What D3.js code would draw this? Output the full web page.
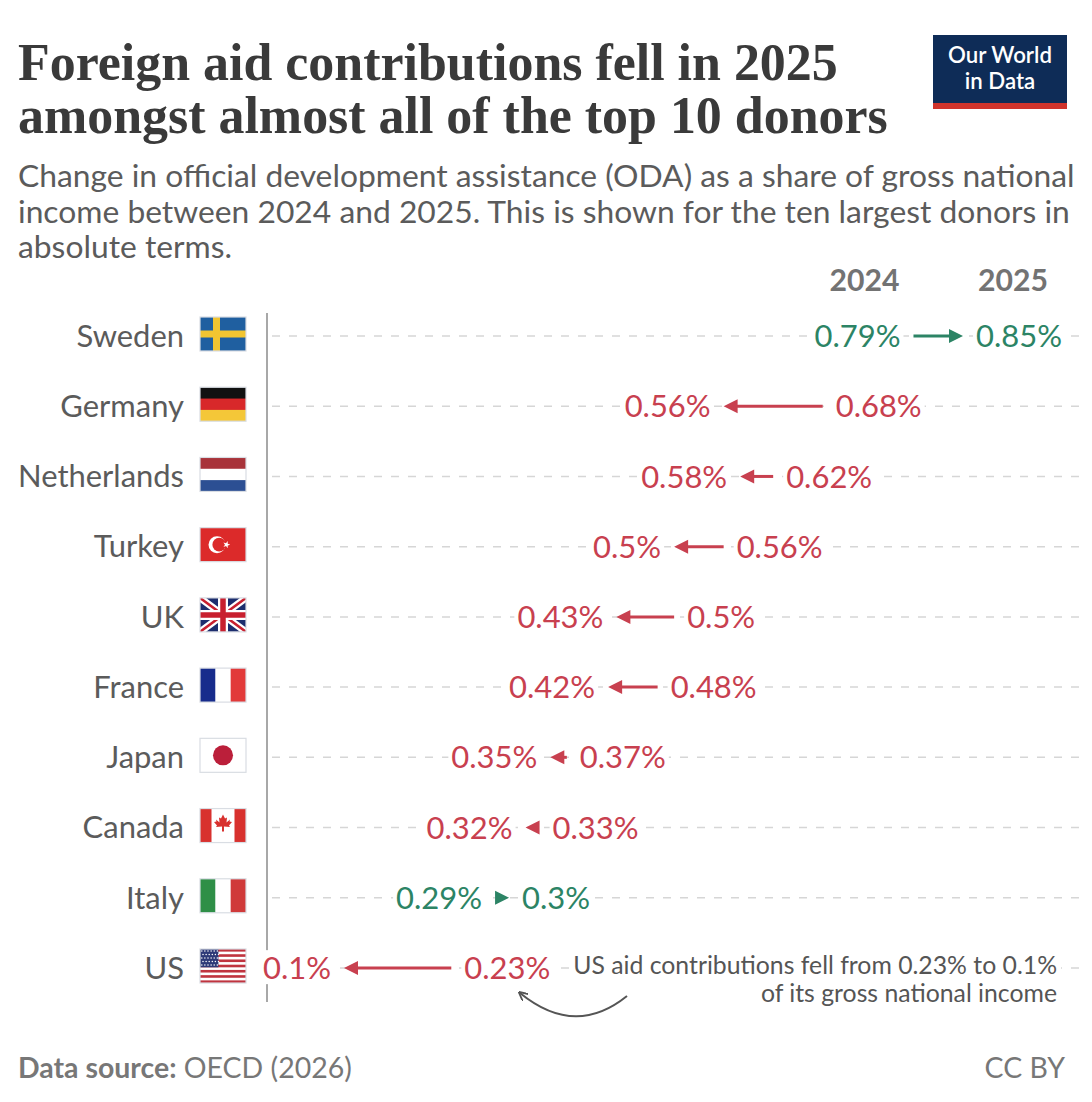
<!DOCTYPE html>
<html>
<head>
<meta charset="utf-8">
<script src="https://cdn.jsdelivr.net/npm/d3@7/dist/d3.min.js"></script>
<style>
  html, body { margin: 0; padding: 0; background: #fff; }
  svg { display: block; }
  text { font-family: Lato, "Open Sans", "Noto Sans", sans-serif; }
</style>
</head>
<body>
<svg id="chart" width="1092" height="1102"></svg>
<script>
// ---------------- DATA ----------------
const countries = ["Sweden", "Germany", "Netherlands", "Turkey", "UK", "France", "Japan", "Canada", "Italy", "US"];
const flagCodes = ["se", "de", "nl", "tr", "gb", "fr", "jp", "ca", "it", "us"];
const oda2024 = [0.79, 0.68, 0.62, 0.56, 0.50, 0.48, 0.37, 0.33, 0.29, 0.23];
const oda2025 = [0.85, 0.56, 0.58, 0.50, 0.43, 0.42, 0.35, 0.32, 0.30, 0.10];
const yearLabels = ["2024", "2025"];
const titleLines = ["Foreign aid contributions fell in 2025", "amongst almost all of the top 10 donors"];
const subtitleLines = [
  "Change in official development assistance (ODA) as a share of gross national",
  "income between 2024 and 2025. This is shown for the ten largest donors in",
  "absolute terms."
];
const noteLines = ["US aid contributions fell from 0.23% to 0.1%", "of its gross national income"];
const logoLines = ["Our World", "in Data"];
const sourceBold = "Data source:";
const sourceText = " OECD (2026)";
const licenseText = "CC BY";

// ---------------- SETUP ----------------
const svg = d3.select("#chart");
const defs = svg.append("defs");
const RED = "#c8404f", GREEN = "#2c8465", GREY = "#5b5b5b";

// measure helper: font size that makes `str` span `target` px
function fitSize(str, target, attrs) {
  const t = svg.append("text").attr("font-size", 30).text(str);
  Object.entries(attrs || {}).forEach(([k, v]) => t.attr(k, v));
  const w = t.node().getComputedTextLength();
  t.remove();
  return 30 * target / w;
}

// Title
const titleFs = fitSize(titleLines[0], 820, { "font-weight": 700, "style": "font-family:'Liberation Serif', 'DejaVu Serif', serif" });
svg.selectAll("text.title").data(titleLines).join("text")
  .attr("class", "title")
  .attr("x", 18).attr("y", (d, i) => 80 + i * 53)
  .attr("fill", "#3a3a3a")
  .attr("font-weight", 700)
  .attr("font-size", titleFs)
  .style("font-family", "'Liberation Serif', 'DejaVu Serif', serif")
  .text(d => d);

// Subtitle
const subFs = fitSize(subtitleLines[0], 1057);
svg.selectAll("text.sub").data(subtitleLines).join("text")
  .attr("class", "sub")
  .attr("x", 18).attr("y", (d, i) => 187 + i * 35.5)
  .attr("fill", GREY).attr("font-size", subFs)
  .text(d => d);

// Logo
const logo = svg.append("g");
logo.append("rect").attr("x", 933).attr("y", 35).attr("width", 134).attr("height", 74).attr("fill", "#0e2c57");
logo.append("rect").attr("x", 933).attr("y", 103).attr("width", 134).attr("height", 6).attr("fill", "#d0342c");
const logoFs = fitSize(logoLines[0], 104, { "font-weight": 600 });
logo.selectAll("text").data(logoLines).join("text")
  .attr("x", 1000).attr("y", (d, i) => 63 + i * 26)
  .attr("text-anchor", "middle").attr("fill", "#fff").attr("font-weight", 600)
  .attr("font-size", logoFs).text(d => d);

// ---------------- SCALES ----------------
const x = d3.scaleLinear().domain([0.1, 0.85]).range([344, 963]);
const y = d3.scalePoint().domain(countries).range([336, 968]);

const rows = countries.map((c, i) => ({
  country: c, code: flagCodes[i], start: oda2024[i], end: oda2025[i]
}));

const gGrid = svg.append("g");
const gAxis = svg.append("g");
const gArrows = svg.append("g");
const gLabelBg = svg.append("g");
const gLabels = svg.append("g");
const gFlags = svg.append("g");

// Gridlines
gGrid.selectAll("line").data(rows).join("line")
  .attr("x1", 272).attr("x2", 1080)
  .attr("y1", d => y(d.country)).attr("y2", d => y(d.country))
  .attr("stroke", "#d6d6d6").attr("stroke-width", 1.5)
  .attr("stroke-dasharray", "8,9");

// Axis line
gAxis.append("line")
  .attr("x1", 267).attr("x2", 267).attr("y1", 313).attr("y2", 1002)
  .attr("stroke", "#a8a8a8").attr("stroke-width", 2);

// Country labels
const countryFs = fitSize("Netherlands", 166);
gLabels.selectAll("text.country").data(rows).join("text")
  .attr("class", "country")
  .attr("x", 184).attr("y", d => y(d.country)).attr("dy", "0.35em")
  .attr("text-anchor", "end").attr("fill", GREY).attr("font-size", countryFs)
  .text(d => d.country);

// Arrows and value labels
const HEAD = 14, HALF = 7, GAP = 13;
const valueFs = fitSize("0.56%", 86);
const fmt = v => (+v.toFixed(2)).toString() + "%";
const startLabels = [], endLabels = [];

rows.forEach(d => {
  const cy = y(d.country);
  const x0 = x(d.start), x1 = x(d.end);
  const dir = x1 >= x0 ? 1 : -1;
  const color = dir > 0 ? GREEN : RED;
  const dist = Math.abs(x1 - x0);
  const base = x1 - dir * HEAD;
  const tailEdge = dist > HEAD ? x0 : base;
  if (dist > HEAD) {
    gArrows.append("line")
      .attr("x1", x0).attr("x2", base + dir * 2)
      .attr("y1", cy).attr("y2", cy)
      .attr("stroke", color).attr("stroke-width", 3);
  }
  gArrows.append("path")
    .attr("d", `M${x1},${cy} L${base},${cy - HALF} L${base},${cy + HALF} Z`)
    .attr("fill", color);

  const sl = gLabels.append("text").attr("class", "val")
    .attr("x", tailEdge - dir * GAP).attr("y", cy).attr("dy", "0.36em")
    .attr("text-anchor", dir > 0 ? "end" : "start")
    .attr("fill", color).attr("font-size", valueFs)
    .text(fmt(d.start));
  const el = gLabels.append("text").attr("class", "val")
    .attr("x", x1 + dir * GAP).attr("y", cy).attr("dy", "0.36em")
    .attr("text-anchor", dir > 0 ? "start" : "end")
    .attr("fill", color).attr("font-size", valueFs)
    .text(fmt(d.end));
  startLabels.push(sl); endLabels.push(el);
});

// white backgrounds behind value labels
gLabels.selectAll("text.val").each(function () {
  const b = this.getBBox();
  gLabelBg.append("rect")
    .attr("x", b.x - 3).attr("y", b.y + 2).attr("width", b.width + 6).attr("height", b.height - 4)
    .attr("fill", "#fff");
});

// Year headers above the first row's labels, nudged toward the arrow
const yearFs = fitSize("2024", 70, { "font-weight": 700 });
[startLabels[0], endLabels[0]].forEach((lab, i) => {
  const b = lab.node().getBBox();
  svg.append("text")
    .attr("x", b.x + b.width / 2 + (i === 0 ? 7 : -6)).attr("y", 291)
    .attr("text-anchor", "middle").attr("fill", "#737373")
    .attr("font-weight", 700).attr("font-size", yearFs)
    .text(yearLabels[i]);
});

// Annotation for the US
const noteG = svg.append("g");
const noteFs = fitSize(noteLines[0], 484);
const noteSel = noteG.selectAll("text").data(noteLines).join("text")
  .attr("x", 1057).attr("y", (d, i) => 974 + i * 28)
  .attr("text-anchor", "end").attr("fill", "#555").attr("font-size", noteFs)
  .text(d => d);
{
  const b = noteSel.nodes()[0].getBBox();
  noteG.insert("rect", "text")
    .attr("x", b.x - 4).attr("y", b.y + 2).attr("width", b.width + 8).attr("height", b.height - 4)
    .attr("fill", "#fff");
}
defs.append("marker")
  .attr("id", "ah").attr("viewBox", "0 0 10 10").attr("refX", 8).attr("refY", 5)
  .attr("markerWidth", 9).attr("markerHeight", 9).attr("markerUnits", "userSpaceOnUse")
  .attr("orient", "auto")
  .append("path").attr("d", "M0,0 L10,5 L0,10").attr("fill", "none")
  .attr("stroke", "#555").attr("stroke-width", 2);
svg.append("path")
  .attr("d", "M627,996 Q575,1038 520,993")
  .attr("fill", "none").attr("stroke", "#555").attr("stroke-width", 2)
  .attr("marker-end", "url(#ah)");

// Footer
const footFs = fitSize(sourceText, 168);
const foot = svg.append("text").attr("x", 18).attr("y", 1078).attr("fill", "#777").attr("font-size", footFs);
foot.append("tspan").attr("font-weight", 700).text(sourceBold);
foot.append("tspan").text(sourceText);
svg.append("text").attr("x", 1065).attr("y", 1078).attr("text-anchor", "end")
  .attr("fill", "#777").attr("font-size", footFs).text(licenseText);

// ---------------- FLAGS ----------------
const FW = 46, FH = 34;
defs.append("clipPath").attr("id", "flagclip").append("rect").attr("width", FW).attr("height", FH);

function star(cx, cy, r, rot) {
  const pts = [];
  for (let k = 0; k < 10; k++) {
    const a = rot + k * Math.PI / 5;
    const rr = k % 2 === 0 ? r : r * 0.4;
    pts.push([cx + rr * Math.cos(a), cy + rr * Math.sin(a)]);
  }
  return "M" + pts.map(p => p.join(",")).join("L") + "Z";
}

const drawFlag = {
  se(g) {
    g.append("rect").attr("width", FW).attr("height", FH).attr("fill", "#1f5fa0");
    g.append("rect").attr("x", 13).attr("width", 7).attr("height", FH).attr("fill", "#f2c531");
    g.append("rect").attr("y", 13.5).attr("width", FW).attr("height", 7).attr("fill", "#f2c531");
  },
  de(g) {
    ["#111", "#d8282a", "#f4c738"].forEach((c, i) =>
      g.append("rect").attr("y", i * FH / 3).attr("width", FW).attr("height", FH / 3 + 0.5).attr("fill", c));
  },
  nl(g) {
    ["#a8333a", "#fff", "#2c4f93"].forEach((c, i) =>
      g.append("rect").attr("y", i * FH / 3).attr("width", FW).attr("height", FH / 3 + 0.5).attr("fill", c));
  },
  tr(g) {
    g.append("rect").attr("width", FW).attr("height", FH).attr("fill", "#dc2a2a");
    g.append("circle").attr("cx", 17).attr("cy", 17).attr("r", 8.5).attr("fill", "#fff");
    g.append("circle").attr("cx", 19.2).attr("cy", 17).attr("r", 6.8).attr("fill", "#dc2a2a");
    g.append("path").attr("d", star(26.5, 17, 3.8, 0)).attr("fill", "#fff");
  },
  gb(g) {
    g.append("rect").attr("width", FW).attr("height", FH).attr("fill", "#1d2e6e");
    g.append("path").attr("d", `M0,0L${FW},${FH}M${FW},0L0,${FH}`).attr("stroke", "#fff").attr("stroke-width", 7);
    g.append("path").attr("d", `M0,0L${FW},${FH}M${FW},0L0,${FH}`).attr("stroke", "#c8202f").attr("stroke-width", 2.5);
    g.append("path").attr("d", `M${FW / 2},0V${FH}M0,${FH / 2}H${FW}`).attr("stroke", "#fff").attr("stroke-width", 10);
    g.append("path").attr("d", `M${FW / 2},0V${FH}M0,${FH / 2}H${FW}`).attr("stroke", "#c8202f").attr("stroke-width", 5.5);
  },
  fr(g) {
    ["#172c8c", "#fff", "#e23a3a"].forEach((c, i) =>
      g.append("rect").attr("x", i * FW / 3).attr("width", FW / 3 + 0.5).attr("height", FH).attr("fill", c));
  },
  jp(g) {
    g.append("rect").attr("width", FW).attr("height", FH).attr("fill", "#fff");
    g.append("circle").attr("cx", FW / 2).attr("cy", FH / 2).attr("r", 10).attr("fill", "#bb1f3a");
  },
  ca(g) {
    g.append("rect").attr("width", FW).attr("height", FH).attr("fill", "#fff");
    g.append("rect").attr("width", 11.5).attr("height", FH).attr("fill", "#d8312e");
    g.append("rect").attr("x", 34.5).attr("width", 11.5).attr("height", FH).attr("fill", "#d8312e");
    const leaf = [[23,6],[25,10],[27,9],[26.5,14],[30,11],[29.5,13],[32,13.5],[29,17],[30,18.5],[24,18],[24,23],[22,23],[22,18],[16,18.5],[17,17],[14,13.5],[16.5,13],[16,11],[19.5,14],[19,9],[21,10]];
    g.append("path").attr("d", "M" + leaf.map(p => p.join(",")).join("L") + "Z").attr("fill", "#d8312e");
  },
  it(g) {
    ["#2f8f47", "#fff", "#d03a3a"].forEach((c, i) =>
      g.append("rect").attr("x", i * FW / 3).attr("width", FW / 3 + 0.5).attr("height", FH).attr("fill", c));
  },
  us(g) {
    g.append("rect").attr("width", FW).attr("height", FH).attr("fill", "#fff");
    const sh = FH / 13;
    for (let k = 0; k < 13; k += 2)
      g.append("rect").attr("y", k * sh).attr("width", FW).attr("height", sh).attr("fill", "#c0343f");
    g.append("rect").attr("width", FW * 0.4).attr("height", sh * 7).attr("fill", "#2e3a78");
    for (let r = 0; r < 5; r++)
      for (let c = 0; c < 6; c++)
        g.append("circle").attr("cx", 1.8 + c * 3.1 + (r % 2) * 1.2).attr("cy", 2 + r * 3.5).attr("r", 0.75).attr("fill", "#fff");
  }
};

gFlags.selectAll("g.flag").data(rows).join("g")
  .attr("class", "flag")
  .attr("transform", d => `translate(200,${y(d.country) - 19})`)
  .each(function (d) {
    const g = d3.select(this);
    const inner = g.append("g").attr("clip-path", "url(#flagclip)");
    drawFlag[d.code](inner);
    g.append("rect").attr("width", FW).attr("height", FH).attr("fill", "none")
      .attr("stroke", "#d9dde3").attr("stroke-width", 1.2);
  });
</script>
</body>
</html>
